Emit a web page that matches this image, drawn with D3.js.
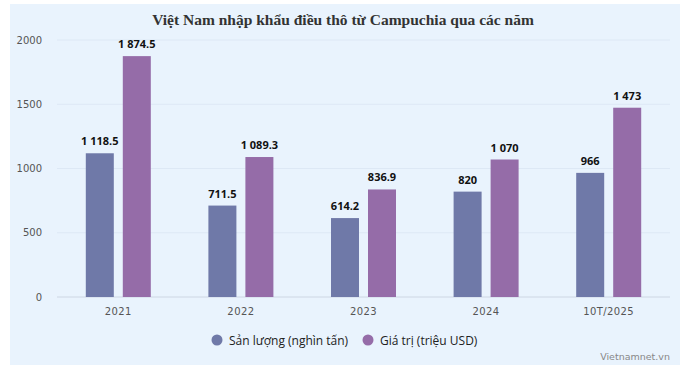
<!DOCTYPE html>
<html>
<head>
<meta charset="utf-8">
<script src="https://cdn.jsdelivr.net/npm/d3@7"></script>
<style>
  body { margin: 0; background: #fff; }
  svg { display: block; }
</style>
</head>
<body>
<div id="chart"></div>
<script>
const WIDTH = 687, HEIGHT = 369;
const MARGINS = {left: 57, right: 17, top: 40, bottom: 72};

// data
const years = ["2021", "2022", "2023", "2024", "10T/2025"];
const sanLuong = [1118.5, 711.5, 614.2, 820, 966];
const giaTri = [1874.5, 1089.3, 836.9, 1070, 1473];
const yTicks = [0, 500, 1000, 1500, 2000];
const seriesNames = ["Sản lượng (nghìn tấn)", "Giá trị (triệu USD)"];
const seriesColors = ["#6f79a8", "#956ca8"];

const fmt = (v) => {
  const parts = String(v).split(".");
  const intPart = parts[0].replace(/\B(?=(\d{3})+(?!\d))/g, " ");
  return parts.length > 1 ? intPart + "." + parts[1] : intPart;
};

const svg = d3.select("#chart").append("svg")
  .attr("width", WIDTH).attr("height", HEIGHT);

// panel
svg.append("rect")
  .attr("x", 10).attr("y", 4)
  .attr("width", 670).attr("height", 361)
  .attr("fill", "#e9f3fd");

svg.append("text")
  .attr("x", 343).attr("y", 25)
  .attr("text-anchor", "middle")
  .attr("font-family", "Liberation Serif, Times New Roman, serif")
  .attr("font-weight", "bold")
  .attr("font-size", 15.5)
  .attr("fill", "#333")
  .text("Việt Nam nhập khẩu điều thô từ Campuchia qua các năm");

const x = d3.scaleBand()
  .domain(years)
  .range([MARGINS.left, WIDTH - MARGINS.right]);

const y = d3.scaleLinear()
  .domain([0, 2000])
  .range([HEIGHT - MARGINS.bottom, MARGINS.top]);

// gridlines
svg.append("g")
  .selectAll("line")
  .data(yTicks)
  .enter()
  .append("line")
  .attr("x1", MARGINS.left).attr("x2", WIDTH - MARGINS.right)
  .attr("y1", d => y(d)).attr("y2", d => y(d))
  .attr("stroke", d => d === 0 ? "#cdd6e3" : "#dde8f5")
  .attr("stroke-width", 1);

const yAxis = svg.append("g")
  .attr("transform", `translate(${MARGINS.left - 12},0)`)
  .call(d3.axisLeft(y).tickValues(yTicks).tickSize(0).tickFormat(d3.format("d")));
yAxis.select(".domain").remove();
yAxis.selectAll("text")
  .attr("font-family", "DejaVu Sans, sans-serif")
  .attr("font-size", 10)
  .attr("fill", "#555");

const xAxis = svg.append("g")
  .attr("transform", `translate(0,${HEIGHT - MARGINS.bottom + 8})`)
  .call(d3.axisBottom(x).tickSize(0));
xAxis.select(".domain").remove();
xAxis.selectAll("text")
  .attr("font-family", "DejaVu Sans, sans-serif")
  .attr("font-size", 10)
  .attr("letter-spacing", 0.4)
  .attr("fill", "#555");

const barW = 28, gap = 9;

const groups = [sanLuong, giaTri];
groups.forEach((vals, si) => {
  const offset = x.bandwidth() / 2 - (barW * 2 + gap) / 2 + si * (barW + gap);
  svg.append("g")
    .selectAll("rect")
    .data(vals)
    .enter()
    .append("rect")
    .attr("x", (d, i) => x(years[i]) + offset)
    .attr("y", d => y(d))
    .attr("width", barW)
    .attr("height", d => y(0) - y(d))
    .attr("fill", seriesColors[si]);

  svg.append("g")
    .selectAll("text")
    .data(vals)
    .enter()
    .append("text")
    .attr("x", (d, i) => x(years[i]) + offset + barW / 2)
    .attr("y", d => y(d) - 8)
    .attr("text-anchor", "middle")
    .attr("font-family", "Open Sans, sans-serif")
    .attr("font-weight", "bold")
    .attr("font-size", 11)
    .attr("fill", "#111")
    .text(d => fmt(d));
});

// legend
const legendX = [217, 368];
seriesNames.forEach((name, i) => {
  svg.append("circle")
    .attr("cx", legendX[i]).attr("cy", 340)
    .attr("r", 5.5)
    .attr("fill", seriesColors[i]);
  svg.append("text")
    .attr("x", legendX[i] + 12).attr("y", 344.5)
    .attr("font-family", "Open Sans, sans-serif")
    .attr("font-size", 12)
    .attr("fill", "#222")
    .text(name);
});

svg.append("text")
  .attr("x", 670).attr("y", 360)
  .attr("text-anchor", "end")
  .attr("font-family", "DejaVu Sans, sans-serif")
  .attr("font-size", 9.5)
  .attr("fill", "#888")
  .text("Vietnamnet.vn");
</script>
</body>
</html>
